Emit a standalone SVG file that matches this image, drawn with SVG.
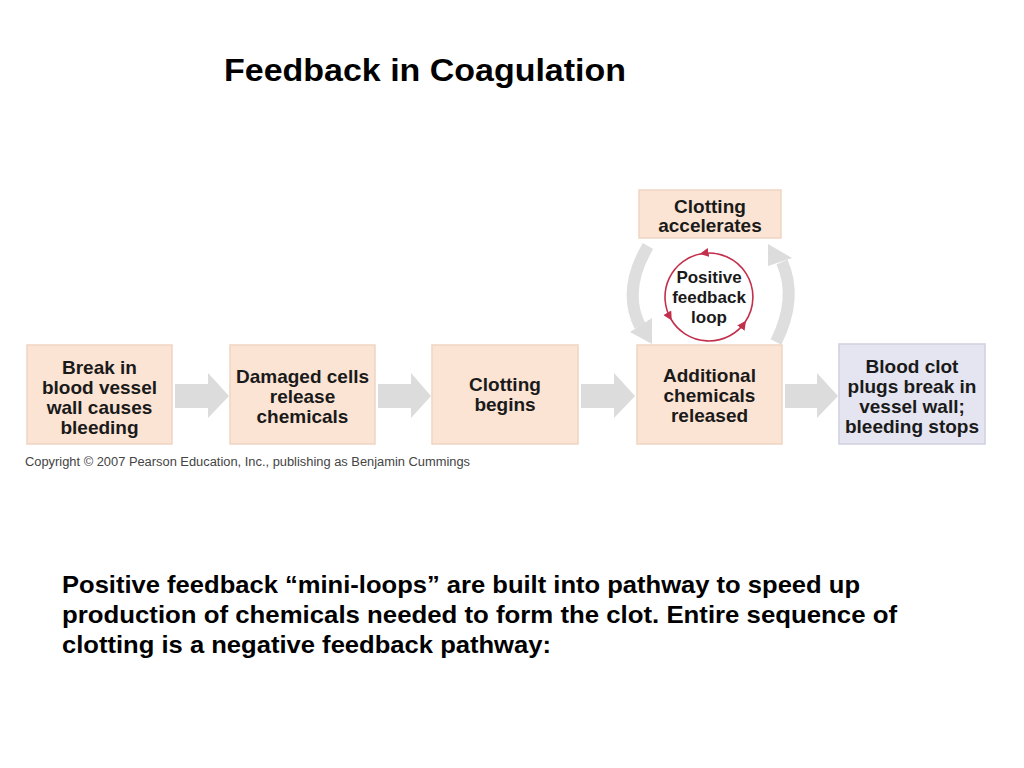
<svg xmlns="http://www.w3.org/2000/svg" width="1024" height="768" viewBox="0 0 1024 768">
<defs>
<style>
.bx{fill:#fce4d4;stroke:#efd5c3;stroke-width:1.5}
.bl{fill:#e5e5f1;stroke:#cfcfde;stroke-width:1.5}
.t{font-family:"Liberation Sans",Arial,sans-serif;font-weight:bold;fill:#1a1a1a;text-anchor:middle}
.bt{font-size:19px}
.ga{fill:#dcdcdc}
.gc{fill:none;stroke:#dedede;stroke-width:12}
.rc{fill:none;stroke:#c2304c;stroke-width:1.6}
</style>
<marker id="rh" viewBox="0 0 10 10" refX="8" refY="5" markerWidth="9" markerHeight="9" markerUnits="userSpaceOnUse" orient="auto">
<path d="M0,0 L10,5 L0,10 z" fill="#c2304c"/>
</marker>
</defs>
<rect width="1024" height="768" fill="#ffffff"/>
<text x="425" y="81" class="t" style="font-size:31px;fill:#000" textLength="402" lengthAdjust="spacingAndGlyphs">Feedback in Coagulation</text>

<g id="connectors">
<polygon class="ga" points="175,384 208,384 208,373 229,396 208,418 208,408 175,408"/>
<polygon class="ga" points="378,384 411,384 411,373 431,396 411,418 411,408 378,408"/>
<polygon class="ga" points="581,384 614,384 614,373 635,396 614,418 614,408 581,408"/>
<polygon class="ga" points="785,384 817,384 817,373 838,396 817,418 817,408 785,408"/>
<path class="gc" d="M648,246 Q622,290 640,326"/>
<polygon class="ga" points="630,332 652,318 652,344"/>
<path class="gc" d="M776,342 Q798,298 782,262"/>
<polygon class="ga" points="768,244 792,258 768,266"/>
<g id="loop-arrows">
<path class="rc" d="M745,322.2 A44,44 0 0 0 701.4,253.7" marker-end="url(#rh)"/>
<path class="rc" d="M701.4,253.7 A44,44 0 0 0 670.9,319" marker-end="url(#rh)"/>
<path class="rc" d="M670.9,319 A44,44 0 0 0 745,322.2" marker-end="url(#rh)"/>
</g>
</g>

<g id="node-break">
<rect class="bx" x="27" y="345" width="145" height="99"/>
<text class="t bt" x="99.5" y="374">Break in</text>
<text class="t bt" x="99.5" y="394">blood vessel</text>
<text class="t bt" x="99.5" y="414">wall causes</text>
<text class="t bt" x="99.5" y="434">bleeding</text>
</g>
<g id="node-damaged">
<rect class="bx" x="230" y="345" width="145" height="99"/>
<text class="t bt" x="302.5" y="383">Damaged cells</text>
<text class="t bt" x="302.5" y="403">release</text>
<text class="t bt" x="302.5" y="423">chemicals</text>
</g>
<g id="node-clotting">
<rect class="bx" x="432" y="345" width="146" height="99"/>
<text class="t bt" x="505" y="391">Clotting</text>
<text class="t bt" x="505" y="411">begins</text>
</g>
<g id="node-additional">
<rect class="bx" x="637" y="345" width="145" height="99"/>
<text class="t bt" x="709.5" y="382">Additional</text>
<text class="t bt" x="709.5" y="402">chemicals</text>
<text class="t bt" x="709.5" y="422">released</text>
</g>
<g id="node-bloodclot">
<rect class="bl" x="839" y="344" width="146" height="100"/>
<text class="t bt" x="912" y="373">Blood clot</text>
<text class="t bt" x="912" y="393">plugs break in</text>
<text class="t bt" x="912" y="413">vessel wall;</text>
<text class="t bt" x="912" y="433">bleeding stops</text>
</g>
<g id="node-accelerates">
<rect class="bx" x="639" y="190" width="142" height="48"/>
<text class="t bt" x="710" y="213">Clotting</text>
<text class="t bt" x="710" y="232">accelerates</text>
</g>
<g id="node-loop">
<text class="t" style="font-size:17px" x="709" y="283">Positive</text>
<text class="t" style="font-size:17px" x="709" y="303">feedback</text>
<text class="t" style="font-size:17px" x="709" y="323">loop</text>
</g>

<text x="25" y="466" style="font-family:'Liberation Sans',Arial,sans-serif;font-size:12px;fill:#444" textLength="445" lengthAdjust="spacingAndGlyphs">Copyright © 2007 Pearson Education, Inc., publishing as Benjamin Cummings</text>

<g style="font-family:'Liberation Sans',Arial,sans-serif;font-weight:bold;font-size:24px;fill:#000">
<text x="62" y="593" textLength="798" lengthAdjust="spacingAndGlyphs">Positive feedback “mini-loops” are built into pathway to speed up</text>
<text x="62" y="623" textLength="835" lengthAdjust="spacingAndGlyphs">production of chemicals needed to form the clot.  Entire sequence of</text>
<text x="62" y="653" textLength="489" lengthAdjust="spacingAndGlyphs">clotting is a negative feedback pathway:</text>
</g>
</svg>
